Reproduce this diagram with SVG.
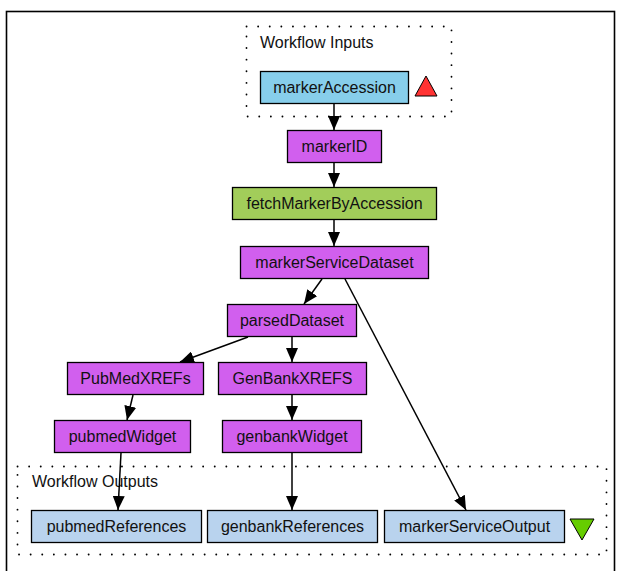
<svg xmlns="http://www.w3.org/2000/svg" width="617" height="571" viewBox="0 0 617 571">
<style>
.n rect{stroke:#000;stroke-width:1.3}
.p rect{fill:#d15fee}
.g rect{fill:#a2cd5a}
.i rect{fill:#87ceeb}
.o rect{fill:#b9d3ee}
text{font-family:"Liberation Sans",Arial,sans-serif;font-size:16px;fill:#111}
.n text{text-anchor:middle}
.cl{fill:none;stroke:#000;stroke-width:1.8;stroke-dasharray:0.1 11.5;stroke-linecap:round}
.e{fill:none;stroke:#000;stroke-width:1.5}
</style>
<defs>
<marker id="ah" viewBox="0 0 14 12" refX="14" refY="6" markerWidth="14" markerHeight="12" markerUnits="userSpaceOnUse" orient="auto">
<path d="M0,0 L14,6 L0,12 Z" fill="#000"/>
</marker>
</defs>
<rect x="6.5" y="11.5" width="608" height="570" fill="#fff" stroke="#000" stroke-width="1.6"/>
<g id="cluster-inputs">
<rect class="cl" x="246.5" y="26.5" width="205" height="90"/>
<text x="260" y="48">Workflow Inputs</text>
</g>
<g id="cluster-outputs">
<rect class="cl" x="17.5" y="466.5" width="589" height="88"/>
<text x="32" y="487">Workflow Outputs</text>
</g>
<g id="markerAccession" class="n i"><rect x="260.5" y="71.5" width="148" height="32"/><text x="334.5" y="93">markerAccession</text></g>
<polygon id="input-marker" points="426,76 437,96 415,96" fill="#f33" stroke="#000" stroke-width="1"/>
<g id="markerID" class="n p"><rect x="287.5" y="130.5" width="94" height="32"/><text x="334.5" y="152">markerID</text></g>
<g id="fetchMarkerByAccession" class="n g"><rect x="232.5" y="187.5" width="204" height="32"/><text x="334.5" y="209">fetchMarkerByAccession</text></g>
<g id="markerServiceDataset" class="n p"><rect x="240.5" y="246.5" width="188" height="32"/><text x="334.5" y="268">markerServiceDataset</text></g>
<g id="parsedDataset" class="n p"><rect x="227.5" y="304.5" width="129" height="32"/><text x="292" y="326">parsedDataset</text></g>
<g id="PubMedXREFs" class="n p"><rect x="67.5" y="362.5" width="136" height="32"/><text x="135.5" y="384">PubMedXREFs</text></g>
<g id="GenBankXREFS" class="n p"><rect x="218.5" y="362.5" width="148" height="32"/><text x="292.5" y="384">GenBankXREFS</text></g>
<g id="pubmedWidget" class="n p"><rect x="54.5" y="420.5" width="136" height="32"/><text x="122.5" y="442">pubmedWidget</text></g>
<g id="genbankWidget" class="n p"><rect x="222.5" y="420.5" width="139" height="32"/><text x="292" y="442">genbankWidget</text></g>
<g id="pubmedReferences" class="n o"><rect x="31.5" y="510.5" width="170" height="32"/><text x="116.5" y="532">pubmedReferences</text></g>
<g id="genbankReferences" class="n o"><rect x="207.5" y="510.5" width="170" height="32"/><text x="292.5" y="532">genbankReferences</text></g>
<g id="markerServiceOutput" class="n o"><rect x="384.5" y="510.5" width="180" height="32"/><text x="474.5" y="532">markerServiceOutput</text></g>
<polygon id="output-marker" points="570,519 594,519 582,540" fill="#66cd00" stroke="#000" stroke-width="1"/>
<g id="connectors">
<line class="e" x1="334" y1="103" x2="334" y2="130" marker-end="url(#ah)"/>
<line class="e" x1="334" y1="163" x2="334" y2="187" marker-end="url(#ah)"/>
<line class="e" x1="334" y1="220" x2="334" y2="246" marker-end="url(#ah)"/>
<line class="e" x1="322" y1="279" x2="304" y2="304" marker-end="url(#ah)"/>
<line class="e" x1="345" y1="279" x2="466" y2="510" marker-end="url(#ah)"/>
<line class="e" x1="248" y1="337" x2="180" y2="362" marker-end="url(#ah)"/>
<line class="e" x1="292" y1="337" x2="292" y2="362" marker-end="url(#ah)"/>
<line class="e" x1="133" y1="395" x2="127" y2="420" marker-end="url(#ah)"/>
<line class="e" x1="292" y1="395" x2="292" y2="420" marker-end="url(#ah)"/>
<line class="e" x1="121" y1="453" x2="118" y2="510" marker-end="url(#ah)"/>
<line class="e" x1="292" y1="453" x2="292" y2="510" marker-end="url(#ah)"/>
</g>
</svg>
